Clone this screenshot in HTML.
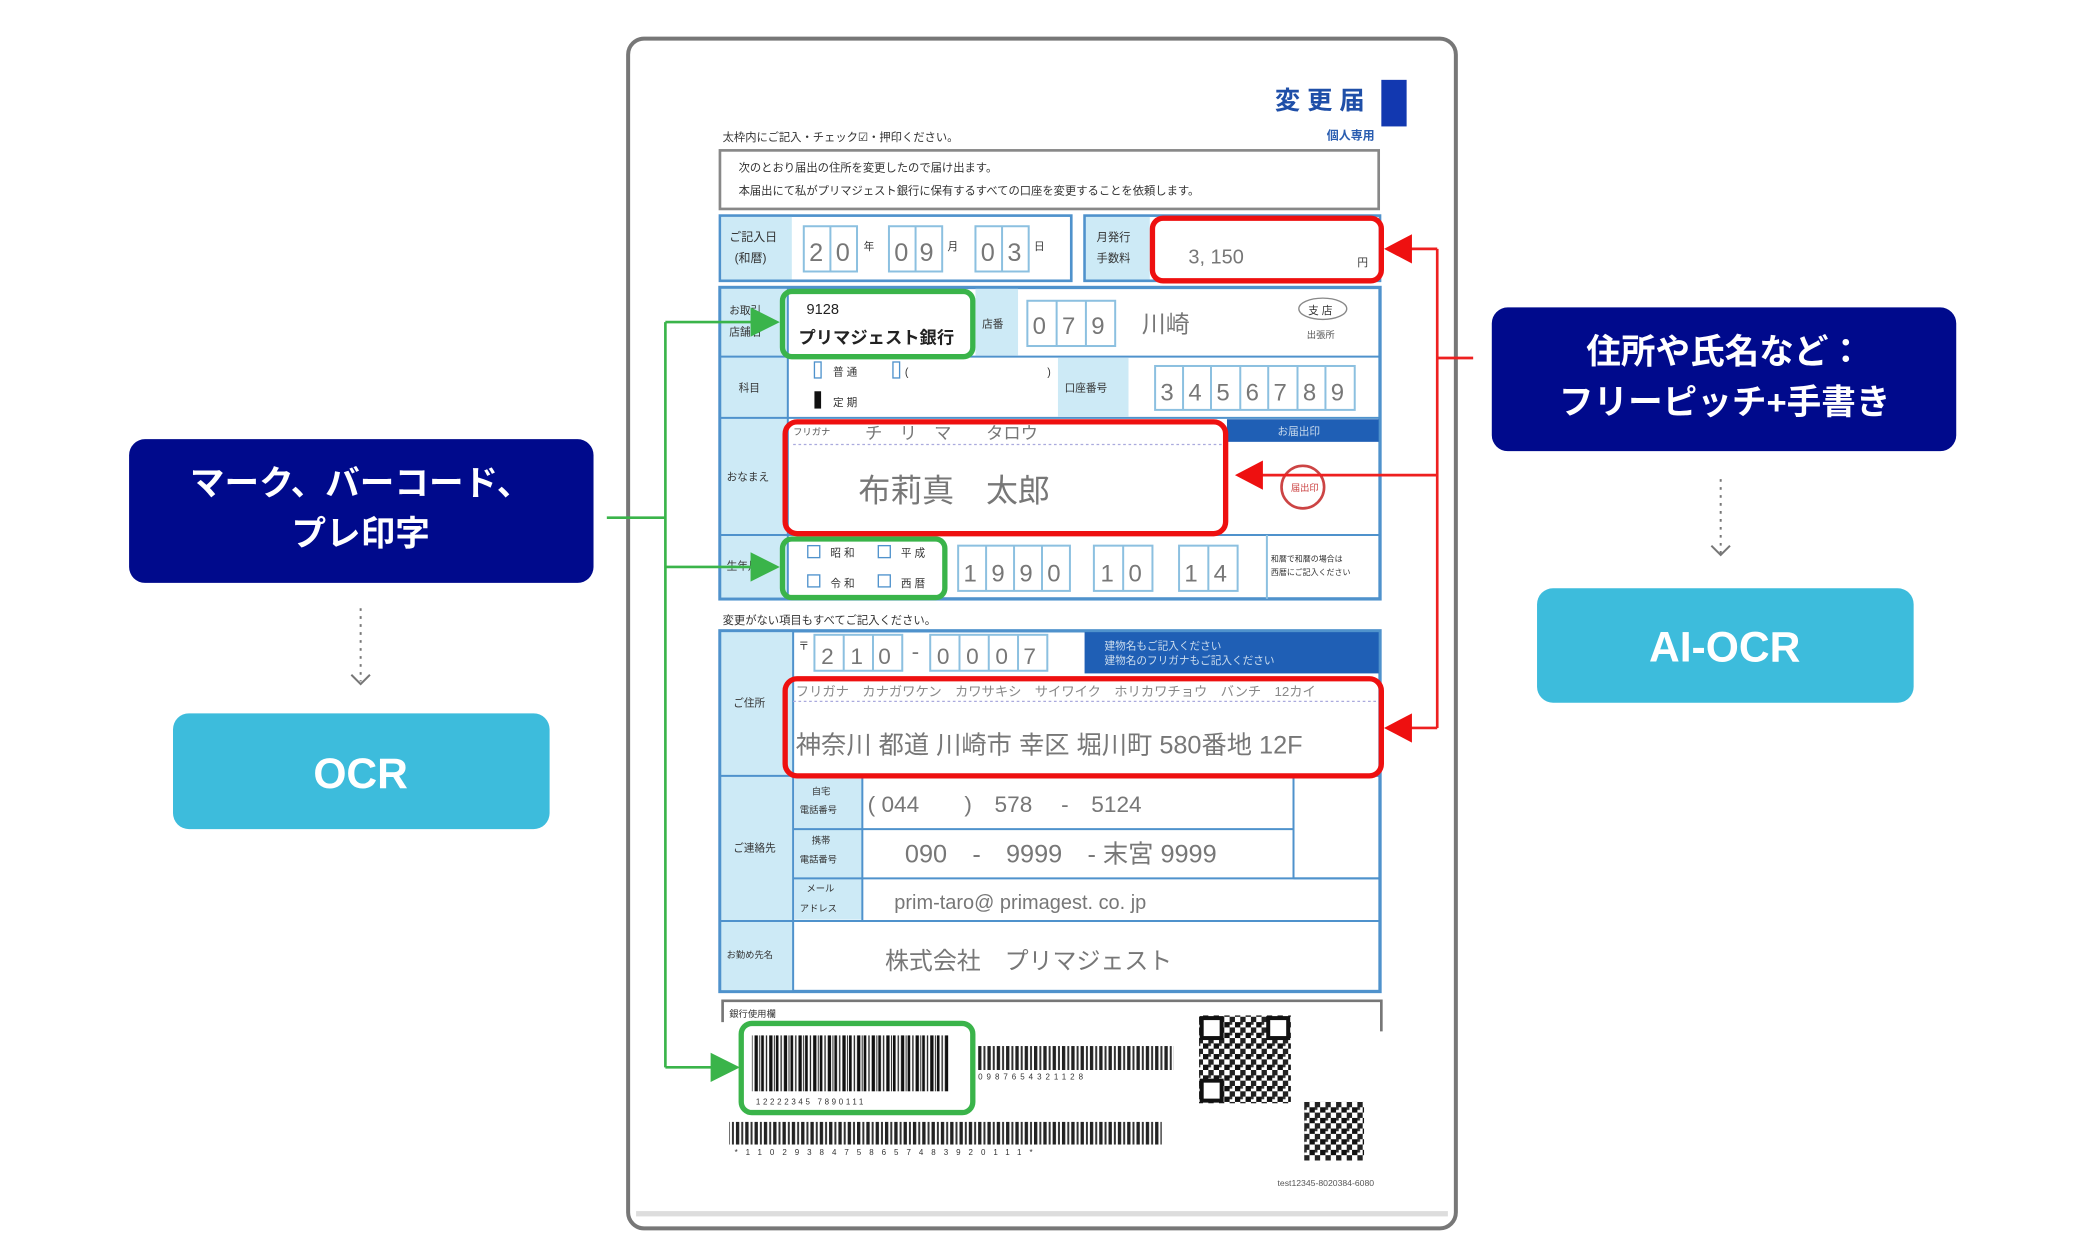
<!DOCTYPE html>
<html><head><meta charset="utf-8"><style>
html,body{margin:0;padding:0;background:#fff;}
svg{display:block;}
text{font-family:"Liberation Sans","Noto Sans CJK JP",sans-serif;}
</style></head><body>
<svg width="2076" height="1251" viewBox="0 0 1560 940" preserveAspectRatio="none" xmlns="http://www.w3.org/2000/svg">
<defs>
<pattern id="bc" width="11" height="10" patternUnits="userSpaceOnUse">
<rect x="0" y="0" width="2" height="10" fill="#111"/><rect x="3.5" y="0" width="1" height="10" fill="#222"/><rect x="6" y="0" width="2.5" height="10" fill="#111"/><rect x="9.5" y="0" width="0.8" height="10" fill="#333"/>
</pattern>
<pattern id="bc2" width="7" height="10" patternUnits="userSpaceOnUse">
<rect x="0" y="0" width="2.5" height="10" fill="#222"/><rect x="4" y="0" width="1.5" height="10" fill="#333"/>
</pattern>
<pattern id="qr" width="8" height="8" patternUnits="userSpaceOnUse">
<rect x="0" y="0" width="4" height="4" fill="#111"/><rect x="4" y="4" width="4" height="4" fill="#222"/><rect x="4" y="0" width="2" height="2" fill="#333"/>
</pattern>
</defs>

<!-- document -->
<rect x="472" y="29" width="622" height="894" rx="12" fill="#fff" stroke="#777" stroke-width="3"/>
<rect x="478" y="910" width="610" height="4" fill="#ddd"/>

<!-- title -->
<text x="958" y="82" font-size="19" font-weight="bold" fill="#1f4fa8">変 更 届</text>
<rect x="1038" y="60" width="19" height="35" fill="#1238b0"/>
<text x="997" y="105" font-size="9" font-weight="bold" fill="#2a5db0">個人専用</text>
<text x="543" y="106" font-size="8.5" fill="#333">太枠内にご記入・チェック☑・押印ください。</text>
<rect x="541" y="113" width="495" height="44" fill="#fff" stroke="#888" stroke-width="2"/>
<text x="555" y="129" font-size="8.5" fill="#333">次のとおり届出の住所を変更したので届け出ます。</text>
<text x="555" y="146" font-size="8.5" fill="#333">本届出にて私がプリマジェスト銀行に保有するすべての口座を変更することを依頼します。</text>

<!-- row1 -->
<rect x="541" y="162" width="264" height="49" fill="#fff" stroke="#4f92cc" stroke-width="2"/>
<rect x="542" y="163" width="53" height="47" fill="#cdeaf6"/>
<text x="548" y="181" font-size="9" fill="#333">ご記入日</text>
<text x="552" y="197" font-size="9" fill="#333">(和暦)</text>
<g fill="none" stroke="#8cc0e0" stroke-width="1.5">
<rect x="604" y="170" width="40" height="34"/><line x1="624" y1="170" x2="624" y2="204"/>
<rect x="668" y="170" width="40" height="34"/><line x1="688" y1="170" x2="688" y2="204"/>
<rect x="733" y="170" width="40" height="34"/><line x1="753" y1="170" x2="753" y2="204"/>
</g>
<g font-size="19" fill="#777"><text x="608" y="196">2</text><text x="628" y="196">0</text><text x="672" y="196">0</text><text x="691" y="196">9</text><text x="737" y="196">0</text><text x="757" y="196">3</text></g>
<g font-size="8" fill="#333"><text x="649" y="188">年</text><text x="712" y="188">月</text><text x="777" y="188">日</text></g>
<rect x="815" y="162" width="222" height="49" fill="#fff" stroke="#4f92cc" stroke-width="2"/>
<rect x="816" y="163" width="48" height="47" fill="#cdeaf6"/>
<text x="824" y="181" font-size="8.5" fill="#333">月発行</text><text x="824" y="197" font-size="8.5" fill="#333">手数料</text>
<text x="893" y="198" font-size="15" fill="#777">3, 150</text>
<text x="1020" y="200" font-size="8" fill="#333">円</text>

<!-- main block -->
<rect x="541" y="216" width="496" height="234" fill="#fff" stroke="#4f92cc" stroke-width="2.5"/>
<rect x="542" y="217" width="50" height="232" fill="#cdeaf6"/>
<g stroke="#4f92cc" stroke-width="1.5"><line x1="541" y1="268" x2="1037" y2="268"/><line x1="541" y1="314" x2="1037" y2="314"/><line x1="541" y1="402" x2="1037" y2="402"/><line x1="592" y1="216" x2="592" y2="450"/></g>
<rect x="733" y="217" width="32" height="50" fill="#cdeaf6"/>
<text x="738" y="246" font-size="8" fill="#333">店番</text>
<text x="548" y="236" font-size="8" fill="#333">お取引</text><text x="548" y="252" font-size="8" fill="#333">店舗名</text>
<text x="606" y="236" font-size="11" fill="#222">9128</text>
<text x="600" y="258" font-size="13" font-weight="bold" fill="#222">プリマジェスト銀行</text>
<g fill="none" stroke="#8cc0e0" stroke-width="1.5"><rect x="772" y="226" width="66" height="34"/><line x1="794" y1="226" x2="794" y2="260"/><line x1="816" y1="226" x2="816" y2="260"/></g>
<g font-size="18" fill="#777"><text x="776" y="251">0</text><text x="798" y="251">7</text><text x="820" y="251">9</text><text x="858" y="250">川崎</text></g>
<ellipse cx="994" cy="232" rx="18" ry="8" fill="none" stroke="#888"/><text x="983" y="236" font-size="8" fill="#333">支 店</text>
<text x="982" y="254" font-size="7" fill="#555">出張所</text>
<text x="555" y="294" font-size="8" fill="#333">科目</text>
<rect x="612" y="272" width="5" height="12" fill="none" stroke="#4f92cc"/><text x="626" y="282" font-size="8" fill="#333">普 通</text>
<rect x="671" y="272" width="5" height="12" fill="none" stroke="#4f92cc"/><text x="680" y="282" font-size="8" fill="#333">(</text><text x="787" y="282" font-size="8" fill="#333">)</text>
<rect x="612" y="294" width="5" height="13" fill="#111"/><text x="626" y="305" font-size="8" fill="#333">定 期</text>
<rect x="795" y="269" width="53" height="44" fill="#cdeaf6"/><text x="800" y="294" font-size="8" fill="#333">口座番号</text>
<g fill="none" stroke="#8cc0e0" stroke-width="1.5"><rect x="868" y="275" width="150" height="33"/>
<line x1="889" y1="275" x2="889" y2="308"/><line x1="910" y1="275" x2="910" y2="308"/><line x1="932" y1="275" x2="932" y2="308"/><line x1="953" y1="275" x2="953" y2="308"/><line x1="975" y1="275" x2="975" y2="308"/><line x1="996" y1="275" x2="996" y2="308"/></g>
<g font-size="18" fill="#777"><text x="872" y="301">3</text><text x="893" y="301">4</text><text x="914" y="301">5</text><text x="936" y="301">6</text><text x="957" y="301">7</text><text x="979" y="301">8</text><text x="1000" y="301">9</text></g>
<rect x="922" y="315" width="114" height="17" fill="#1f5fb5"/><text x="960" y="327" font-size="8" fill="#cde">お届出印</text>
<text x="546" y="361" font-size="8" fill="#333">おなまえ</text>
<text x="596" y="327" font-size="7" fill="#555">フリガナ</text>
<text x="650" y="330" font-size="13" fill="#777">チ　リ　マ　　タロウ</text>
<line x1="596" y1="334" x2="920" y2="334" stroke="#aad" stroke-dasharray="2,2"/>
<text x="645" y="377" font-size="24" fill="#777">布莉真　太郎</text>
<circle cx="979" cy="366" r="16" fill="none" stroke="#c44" stroke-width="2"/>
<text x="970" y="369" font-size="7" fill="#c44">届出印</text>
<text x="546" y="428" font-size="8" fill="#333">生年月日</text>
<g font-size="8" fill="#333"><rect x="607" y="410" width="9" height="9" fill="none" stroke="#4f92cc"/><text x="624" y="418">昭 和</text>
<rect x="660" y="410" width="9" height="9" fill="none" stroke="#4f92cc"/><text x="677" y="418">平 成</text>
<rect x="607" y="432" width="9" height="9" fill="none" stroke="#4f92cc"/><text x="624" y="441">令 和</text>
<rect x="660" y="432" width="9" height="9" fill="none" stroke="#4f92cc"/><text x="677" y="441">西 暦</text></g>
<g fill="none" stroke="#8cc0e0" stroke-width="1.5"><rect x="720" y="410" width="84" height="34"/><line x1="741" y1="410" x2="741" y2="444"/><line x1="762" y1="410" x2="762" y2="444"/><line x1="783" y1="410" x2="783" y2="444"/>
<rect x="822" y="410" width="44" height="34"/><line x1="844" y1="410" x2="844" y2="444"/>
<rect x="886" y="410" width="44" height="34"/><line x1="908" y1="410" x2="908" y2="444"/>
<line x1="952" y1="402" x2="952" y2="450"/></g>
<g font-size="18" fill="#777"><text x="724" y="437">1</text><text x="745" y="437">9</text><text x="766" y="437">9</text><text x="787" y="437">0</text><text x="827" y="437">1</text><text x="848" y="437">0</text><text x="890" y="437">1</text><text x="912" y="437">4</text></g>
<text x="955" y="422" font-size="6" fill="#333">和暦で和暦の場合は</text><text x="955" y="432" font-size="6" fill="#333">西暦にご記入ください</text>

<text x="543" y="469" font-size="8.5" fill="#333">変更がない項目もすべてご記入ください。</text>
<!-- address block -->
<rect x="541" y="474" width="496" height="271" fill="#fff" stroke="#4f92cc" stroke-width="2.5"/>
<rect x="542" y="475" width="54" height="269" fill="#cdeaf6"/>
<rect x="597" y="584" width="51" height="107" fill="#cdeaf6"/>
<rect x="815" y="475" width="221" height="31" fill="#1f5fb5"/>
<text x="830" y="488" font-size="8" fill="#cde">建物名もご記入ください</text><text x="830" y="499" font-size="8" fill="#cde">建物名のフリガナもご記入ください</text>
<g stroke="#4f92cc" stroke-width="1.5" fill="none"><line x1="596" y1="474" x2="596" y2="745"/><line x1="541" y1="583" x2="1037" y2="583"/><line x1="596" y1="623" x2="972" y2="623"/><line x1="596" y1="660" x2="1037" y2="660"/><line x1="541" y1="692" x2="1037" y2="692"/><line x1="648" y1="583" x2="648" y2="692"/><line x1="972" y1="583" x2="972" y2="660"/><line x1="972" y1="660" x2="1037" y2="660"/></g>
<text x="600" y="488" font-size="8" fill="#333">〒</text>
<g fill="none" stroke="#8cc0e0" stroke-width="1.5"><rect x="612" y="477" width="66" height="27"/><line x1="634" y1="477" x2="634" y2="504"/><line x1="656" y1="477" x2="656" y2="504"/>
<rect x="699" y="477" width="88" height="27"/><line x1="721" y1="477" x2="721" y2="504"/><line x1="743" y1="477" x2="743" y2="504"/><line x1="765" y1="477" x2="765" y2="504"/></g>
<g font-size="17" fill="#777"><text x="617" y="499">2</text><text x="639" y="499">1</text><text x="660" y="499">0</text><text x="685" y="495">-</text><text x="704" y="499">0</text><text x="726" y="499">0</text><text x="748" y="499">0</text><text x="769" y="499">7</text></g>
<text x="551" y="531" font-size="8" fill="#333">ご住所</text>
<text x="598" y="523" font-size="10" fill="#888">フリガナ　カナガワケン　カワサキシ　サイワイク　ホリカワチョウ　バンチ　12カイ</text>
<line x1="596" y1="527" x2="1035" y2="527" stroke="#aad" stroke-dasharray="2,2"/>
<text x="598" y="566" font-size="19" fill="#777">神奈川 都道 川崎市 幸区 堀川町 580番地 12F</text>
<text x="551" y="640" font-size="8" fill="#333">ご連絡先</text>
<text x="610" y="597" font-size="7" fill="#333">自宅</text><text x="601" y="611" font-size="7" fill="#333">電話番号</text>
<text x="610" y="634" font-size="7" fill="#333">携帯</text><text x="601" y="648" font-size="7" fill="#333">電話番号</text>
<text x="606" y="670" font-size="7" fill="#333">メール</text><text x="601" y="685" font-size="7" fill="#333">アドレス</text>
<text x="652" y="610" font-size="17" fill="#777">( 044　　)　578　 -　5124</text>
<text x="680" y="648" font-size="19" fill="#777">090　-　9999　- 末宮 9999</text>
<text x="672" y="683" font-size="15" fill="#777">prim-taro@ primagest. co. jp</text>
<text x="546" y="720" font-size="7" fill="#333">お勤め先名</text>
<text x="665" y="728" font-size="18" fill="#777">株式会社　プリマジェスト</text>

<!-- bank use -->
<path d="M543 768 V752 H1038 V775" fill="none" stroke="#777" stroke-width="2"/>
<text x="548" y="764" font-size="7" fill="#333">銀行使用欄</text>
<rect x="565" y="778" width="148" height="42" fill="url(#bc)"/>
<text x="568" y="830" font-size="6" fill="#333" letter-spacing="2">12222345 7890111</text>
<rect x="735" y="786" width="147" height="18" fill="url(#bc2)"/>
<text x="735" y="811" font-size="6" fill="#333" letter-spacing="3">0987654321128</text>
<rect x="548" y="843" width="325" height="17" fill="url(#bc2)"/>
<text x="552" y="868" font-size="6" fill="#333" letter-spacing="6">*11029384758657483920111*</text>
<rect x="901" y="763" width="69" height="66" fill="url(#qr)"/>
<g fill="#fff" stroke="#111" stroke-width="3"><rect x="903" y="765" width="15" height="15"/><rect x="953" y="765" width="15" height="15"/><rect x="903" y="812" width="15" height="15"/></g>
<rect x="980" y="828" width="45" height="44" fill="url(#qr)"/>
<text x="960" y="891" font-size="6.5" fill="#555">test12345-8020384-6080</text>

<!-- green highlight -->
<g fill="none" stroke="#3ab44a" stroke-width="4">
<rect x="588" y="219" width="143" height="49" rx="7"/>
<rect x="588" y="405" width="122" height="44" rx="7"/>
<rect x="557" y="769" width="174" height="67" rx="8"/>
</g>
<g stroke="#3ab44a" stroke-width="2" fill="none"><polyline points="456,389 500,389"/><polyline points="500,242 500,802"/><line x1="500" y1="242" x2="566" y2="242"/><line x1="500" y1="426" x2="566" y2="426"/><line x1="500" y1="802" x2="536" y2="802"/></g>
<g fill="#3ab44a"><polygon points="586,242 564,231 564,253"/><polygon points="586,426 564,415 564,437"/><polygon points="556,802 534,791 534,813"/></g>

<!-- red highlight -->
<g fill="none" stroke="#ee1010" stroke-width="4">
<rect x="866" y="164" width="172" height="47" rx="8"/>
<rect x="590" y="317" width="331" height="84" rx="9"/>
<rect x="590" y="510" width="448" height="73" rx="9"/>
</g>
<g stroke="#ee2020" stroke-width="2" fill="none"><line x1="1107" y1="269" x2="1080" y2="269"/><line x1="1080" y1="187" x2="1080" y2="547"/><line x1="1080" y1="187" x2="1058" y2="187"/><line x1="1080" y1="357" x2="946" y2="357"/><line x1="1080" y1="547" x2="1058" y2="547"/></g>
<g fill="#ee1010"><polygon points="1040,187 1061,176 1061,198"/><polygon points="928,357 949,346 949,368"/><polygon points="1040,547 1061,536 1061,558"/></g>

<!-- left labels -->
<rect x="97" y="330" width="349" height="108" rx="12" fill="#000a8c"/>
<text x="271" y="372" font-size="26" font-weight="bold" fill="#fff" text-anchor="middle">マーク、バーコード、</text>
<text x="271" y="410" font-size="26" font-weight="bold" fill="#fff" text-anchor="middle">プレ印字</text>
<line x1="271" y1="457" x2="271" y2="512" stroke="#777" stroke-width="1.5" stroke-dasharray="2,4"/>
<polyline points="264,507 271,514 278,507" fill="none" stroke="#777" stroke-width="1.5"/>
<rect x="130" y="536" width="283" height="87" rx="12" fill="#3dbcdc"/>
<text x="271" y="592" font-size="32" font-weight="bold" fill="#fff" text-anchor="middle">OCR</text>

<!-- right labels -->
<rect x="1121" y="231" width="349" height="108" rx="12" fill="#000a8c"/>
<text x="1296" y="273" font-size="26" font-weight="bold" fill="#fff" text-anchor="middle">住所や氏名など：</text>
<text x="1296" y="311" font-size="26" font-weight="bold" fill="#fff" text-anchor="middle">フリーピッチ+手書き</text>
<line x1="1293" y1="360" x2="1293" y2="416" stroke="#777" stroke-width="1.5" stroke-dasharray="2,4"/>
<polyline points="1286,410 1293,417 1300,410" fill="none" stroke="#777" stroke-width="1.5"/>
<rect x="1155" y="442" width="283" height="86" rx="12" fill="#3dbcdc"/>
<text x="1296" y="497" font-size="32" font-weight="bold" fill="#fff" text-anchor="middle">AI-OCR</text>
</svg>
</body></html>
